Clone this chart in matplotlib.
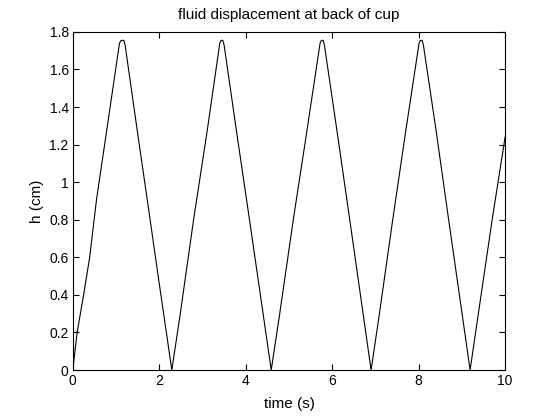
import matplotlib
matplotlib.use("Agg")
import matplotlib.pyplot as plt

# values
time_s = [0.00, 0.10, 0.25, 0.39, 0.55, 0.80, 1.08, 1.12, 1.18, 1.21, 1.50, 1.72, 2.00, 2.29,
          2.48, 2.80, 3.10, 3.40, 3.43, 3.47, 3.50, 3.80, 4.10, 4.59,
          4.78, 5.10, 5.40, 5.72, 5.75, 5.79, 5.82, 6.10, 6.40, 6.90,
          7.08, 7.40, 7.70, 8.01, 8.04, 8.08, 8.11, 8.40, 8.70, 9.19,
          9.40, 9.70, 10.00]
height_cm = [0.00, 0.20, 0.40, 0.60, 0.91, 1.30, 1.74, 1.755, 1.755, 1.73, 1.26, 0.91, 0.46, 0.00,
             0.29, 0.81, 1.26, 1.74, 1.755, 1.755, 1.73, 1.25, 0.78, 0.00,
             0.29, 0.80, 1.25, 1.74, 1.755, 1.755, 1.73, 1.29, 0.81, 0.00,
             0.28, 0.80, 1.27, 1.74, 1.755, 1.755, 1.73, 1.28, 0.79, 0.00,
             0.33, 0.80, 1.24]

plt.rcParams['font.family'] = ['Liberation Sans', 'DejaVu Sans']
plt.rcParams['font.size'] = 10

fig = plt.figure(figsize=(5.6, 4.2), dpi=100)
ax = fig.add_axes([0.13, 0.119, 0.772, 0.805])
ax.plot(time_s, height_cm, color='black', linewidth=0.8)

ax.set_xlim(0, 10)
ax.set_ylim(0, 1.8)
ax.set_xticks([0, 2, 4, 6, 8, 10])
ax.set_yticks([0, 0.2, 0.4, 0.6, 0.8, 1, 1.2, 1.4, 1.6, 1.8])
ax.set_yticklabels(['0', '0.2', '0.4', '0.6', '0.8', '1', '1.2', '1.4', '1.6', '1.8'])
ax.tick_params(direction='in', top=True, right=True, length=4, width=0.8, pad=3)
for s in ax.spines.values():
    s.set_linewidth(0.8)

ax.set_xlabel('time (s)', fontsize=11, labelpad=6)
ax.set_ylabel('h (cm)', fontsize=11, labelpad=4)
ax.set_title('fluid displacement at back of cup', fontsize=11, pad=9)

fig.savefig('out.png', dpi=100)
